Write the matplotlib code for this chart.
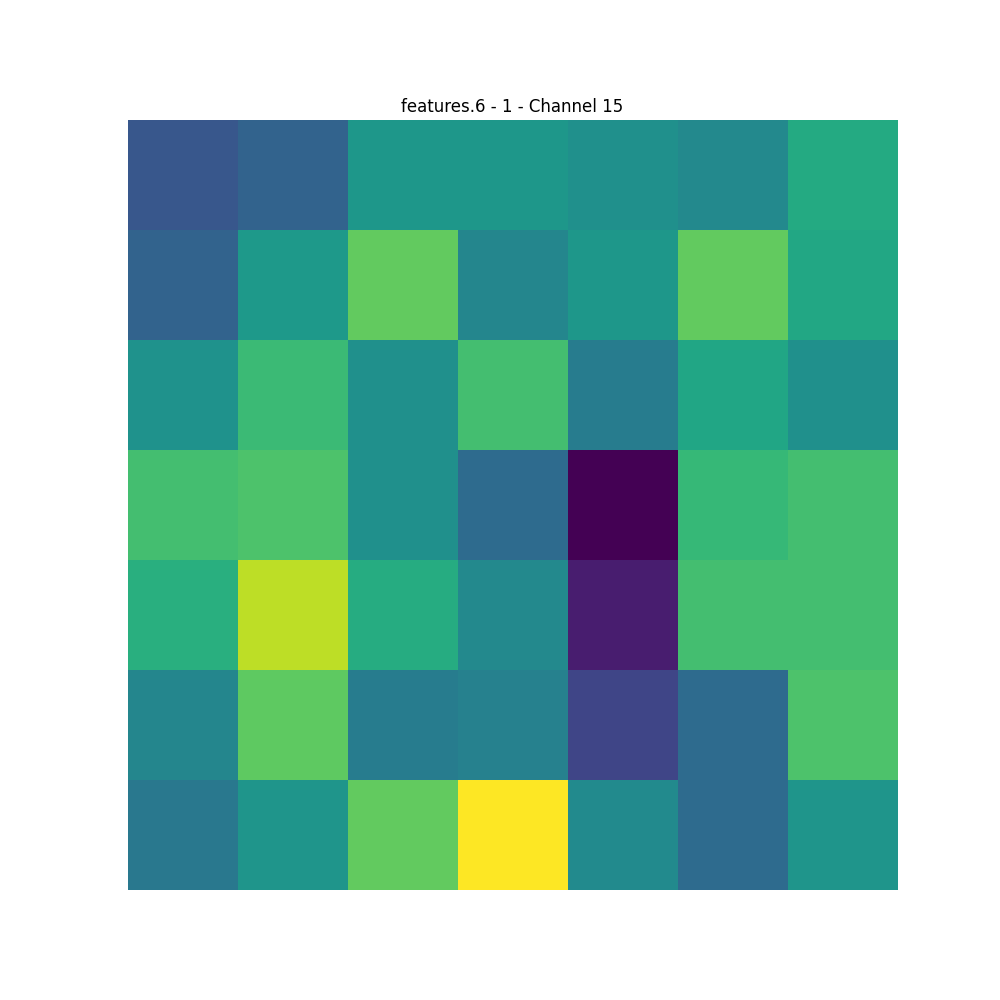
import matplotlib
matplotlib.use("Agg")
import matplotlib.pyplot as plt
import numpy as np

# activation values of the 7x7 feature map (normalised)
row0 = [0.27, 0.32, 0.53, 0.53, 0.50, 0.47, 0.61]
row1 = [0.32, 0.54, 0.76, 0.46, 0.53, 0.76, 0.60]
row2 = [0.51, 0.68, 0.50, 0.70, 0.42, 0.59, 0.50]
row3 = [0.70, 0.72, 0.50, 0.35, 0.00, 0.67, 0.70]
row4 = [0.63, 0.90, 0.62, 0.47, 0.08, 0.70, 0.70]
row5 = [0.46, 0.75, 0.42, 0.44, 0.21, 0.35, 0.72]
row6 = [0.40, 0.52, 0.76, 1.00, 0.48, 0.35, 0.52]

fmap = np.array([row0, row1, row2, row3, row4, row5, row6])

fig = plt.figure(figsize=(10, 10), dpi=100)
plt.imshow(fmap, cmap="viridis")
plt.title("features.6 - 1 - Channel 15")
plt.axis("off")
plt.savefig("out.png")
